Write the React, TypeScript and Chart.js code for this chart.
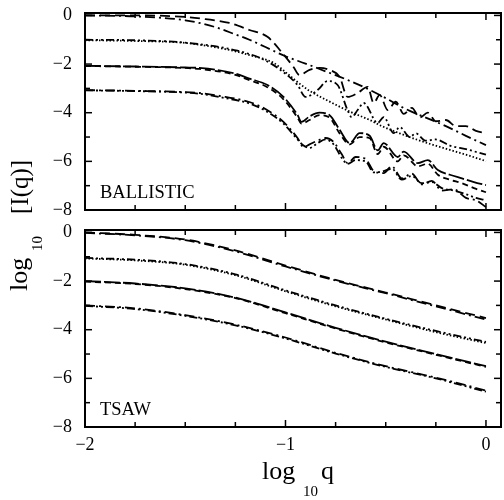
import React, { useEffect, useRef } from "react";
import { Chart, registerables } from "chart.js";
Chart.register(...registerables);

const FONT = '"Liberation Serif", "DejaVu Serif", serif';

// ---------- axes ----------
const xTickLabels = [-2, -1, 0];
const yTickLabels = [-8, -6, -4, -2, 0];
const X_MIN = -2;
const X_MAX = 0.075;
const Y_MIN = -8;
const Y_MAX = 0.1;

// ---------- BALLISTIC (top panel) ----------
const b0SmoothX = [-2, -1.75, -1.5, -1.35, -1.25, -1.18, -1.1, -1.0, -0.9, -0.8, -0.7, -0.6, -0.5, -0.4, -0.3, -0.2, -0.1, 0];
const b0SmoothY = [0.0, -0.04, -0.2, -0.48, -0.78, -1.0, -1.3, -1.68, -1.98, -2.3, -2.62, -2.98, -3.4, -3.85, -4.2, -4.55, -4.95, -5.33];

const b0OscX = [-2, -1.75, -1.5, -1.4, -1.28, -1.18, -1.09, -1.02, -0.96, -0.93, -0.88, -0.83, -0.78, -0.73, -0.69, -0.64, -0.59, -0.56, -0.53, -0.49, -0.45, -0.41, -0.37, -0.33, -0.29, -0.25, -0.2, -0.15, -0.1, -0.05, 0];
const b0OscY = [0.0, 0.0, -0.06, -0.15, -0.31, -0.6, -0.88, -1.5, -2.12, -2.45, -2.24, -2.16, -2.24, -2.53, -3.35, -3.19, -2.94, -3.6, -3.27, -3.89, -3.55, -4.05, -3.8, -4.2, -4.0, -4.35, -4.3, -4.55, -4.55, -4.75, -4.84];

const b1SmoothX = [-2, -1.75, -1.5, -1.28, -1.18, -1.06, -0.99, -0.94, -0.88, -0.79, -0.68, -0.58, -0.52, -0.43, -0.34, -0.26, -0.18, -0.09, 0];
const b1SmoothY = [-1.02, -1.05, -1.13, -1.42, -1.63, -1.95, -2.4, -2.74, -3.1, -3.5, -3.95, -4.3, -4.55, -4.85, -5.12, -5.33, -5.53, -5.75, -5.99];

const b1OscX = [-2, -1.75, -1.5, -1.24, -1.1, -1.0, -0.94, -0.9, -0.84, -0.79, -0.74, -0.69, -0.67, -0.64, -0.61, -0.54, -0.51, -0.46, -0.43, -0.38, -0.35, -0.3, -0.25, -0.18, -0.1, 0];
const b1OscY = [-1.0, -1.02, -1.12, -1.45, -1.85, -2.4, -2.86, -3.35, -3.07, -2.7, -2.86, -3.9, -4.18, -3.89, -3.6, -4.42, -4.18, -4.84, -4.59, -5.0, -4.85, -5.15, -5.1, -5.35, -5.5, -5.72];

const b2X = [-2, -1.75, -1.5, -1.43, -1.26, -1.18, -1.09, -1.01, -0.94, -0.92, -0.88, -0.83, -0.78, -0.73, -0.68, -0.63, -0.58, -0.54, -0.51, -0.44, -0.41, -0.34, -0.29, -0.24, -0.18, -0.12, -0.06, 0];
const b2MainY = [-2.07, -2.1, -2.14, -2.16, -2.37, -2.6, -2.86, -3.35, -4.09, -4.38, -4.15, -4.0, -4.1, -4.7, -5.25, -4.84, -4.95, -5.55, -5.25, -5.82, -5.6, -6.07, -5.95, -6.36, -6.55, -6.7, -6.85, -6.98];
const b2CompY = [-2.08, -2.11, -2.16, -2.2, -2.42, -2.66, -2.95, -3.45, -4.2, -4.45, -4.3, -4.1, -4.2, -4.85, -5.3, -5.0, -5.05, -5.7, -5.4, -6.0, -5.75, -6.2, -6.1, -6.55, -6.75, -6.9, -7.1, -7.27];

const b3X = [-2, -1.75, -1.5, -1.43, -1.3, -1.18, -1.1, -1.01, -0.94, -0.91, -0.88, -0.84, -0.8, -0.76, -0.72, -0.69, -0.65, -0.6, -0.56, -0.51, -0.47, -0.42, -0.37, -0.32, -0.27, -0.22, -0.16, -0.1, -0.05, 0];
const b3MainY = [-3.07, -3.1, -3.15, -3.19, -3.35, -3.56, -3.85, -4.38, -5.04, -5.41, -5.3, -5.15, -5.04, -5.2, -5.7, -6.07, -5.82, -5.9, -6.4, -6.48, -6.2, -6.7, -6.5, -6.95, -6.8, -7.2, -7.15, -7.5, -7.6, -7.88];
const b3CompY = [-3.08, -3.11, -3.17, -3.22, -3.4, -3.62, -3.92, -4.45, -5.1, -5.35, -5.45, -5.25, -5.1, -5.3, -5.85, -6.1, -5.95, -6.0, -6.45, -6.4, -6.3, -6.75, -6.6, -6.9, -6.85, -7.1, -7.2, -7.35, -7.5, -7.6];

// ---------- TSAW (bottom panel) ----------
const tX = [-2, -1.75, -1.5, -1.25, -1.0, -0.75, -0.5, -0.25, 0];
const t0A = [0.0, -0.1, -0.29, -0.74, -1.36, -1.95, -2.47, -3.0, -3.52];
const t0B = [-0.02, -0.12, -0.32, -0.78, -1.4, -1.98, -2.5, -3.04, -3.58];
const t1A = [-1.05, -1.12, -1.3, -1.72, -2.38, -3.0, -3.55, -4.05, -4.5];
const t1B = [-1.07, -1.15, -1.33, -1.76, -2.42, -3.04, -3.58, -4.1, -4.55];
const t2A = [-2.0, -2.1, -2.3, -2.68, -3.29, -3.92, -4.49, -5.0, -5.5];
const t2B = [-2.02, -2.12, -2.33, -2.7, -3.32, -3.95, -4.52, -5.03, -5.53];
const t3A = [-3.0, -3.12, -3.4, -3.79, -4.32, -4.95, -5.5, -5.97, -6.5];
const t3B = [-3.02, -3.15, -3.43, -3.82, -4.36, -4.98, -5.53, -6.0, -6.55];

// ---------- dash styles ----------
const DASH = [10, 5];
const DASHDOT = [10, 4, 2, 4];
const DOT = [1.5, 2];
const DASHDOTDOT = [8, 3, 2, 3, 2, 3];
const LONGDASH = [16, 3];
const MEDDASH = [6, 4];

function ds(xs: number[], ys: number[], dash: number[], width = 1.8) {
  return {
    data: xs.map((x, i) => ({ x, y: ys[i] })),
    borderColor: "#000",
    borderWidth: width,
    borderDash: dash,
    pointRadius: 0,
    fill: false,
    cubicInterpolationMode: "monotone" as const,
  };
}

const fmt = (v: any) => {
  const n = Number(v);
  return n < 0 ? "\u2212" + Math.abs(n) : String(n);
};

const framePlugin = {
  id: "frame",
  afterDraw(chart: any, _a: any, opts: any) {
    const { ctx, chartArea: a, scales } = chart;
    const xs = scales.x;
    const ys = scales.y;
    ctx.save();
    ctx.strokeStyle = "#000";
    const line = (x1: number, y1: number, x2: number, y2: number) => {
      ctx.beginPath();
      ctx.moveTo(x1, y1);
      ctx.lineTo(x2, y2);
      ctx.stroke();
    };
    ctx.lineWidth = 1.5;
    for (let i = 0; i <= 8; i++) {
      const v = -2 + i * 0.25;
      const px = xs.getPixelForValue(v);
      const L = i % 4 === 0 ? 7 : 5;
      line(px, a.bottom, px, a.bottom - L);
      line(px, a.top, px, a.top + L);
    }
    for (let v = -8; v <= 0; v++) {
      const py = ys.getPixelForValue(v);
      const L = v % 2 === 0 ? 7 : 5;
      line(a.left, py, a.left + L, py);
      line(a.right, py, a.right - L, py);
    }
    ctx.lineWidth = 2;
    ctx.strokeRect(a.left, a.top, a.right - a.left, a.bottom - a.top);
    ctx.fillStyle = "#000";
    ctx.font = `18.5px ${FONT}`;
    ctx.textBaseline = "alphabetic";
    ctx.textAlign = "left";
    ctx.fillText(opts.label, a.left + 15, a.bottom - 12);
    ctx.restore();
  },
};

function yScale() {
  return {
    type: "linear" as const,
    min: Y_MIN,
    max: Y_MAX,
    grid: { display: false, drawTicks: false },
    border: { display: false },
    afterBuildTicks: (s: any) => {
      s.ticks = yTickLabels.map((v) => ({ value: v }));
    },
    afterFit: (s: any) => {
      s.width = 85;
      s.paddingTop = 0;
      s.paddingBottom = 0;
    },
    ticks: {
      color: "#000",
      font: { family: FONT, size: 18 },
      padding: 13,
      callback: fmt,
    },
  };
}

function Panel(props: { datasets: any[]; label: string; showX: boolean; height: number; padTop: number; padBottom: number; xHeight: number }) {
  const ref = useRef<HTMLCanvasElement | null>(null);
  useEffect(() => {
    if (!ref.current) return;
    const chart = new Chart(ref.current, {
      type: "line",
      data: { datasets: props.datasets },
      plugins: [framePlugin],
      options: {
        animation: false,
        responsive: false,
        maintainAspectRatio: false,
        layout: { padding: { top: props.padTop, right: 3, bottom: props.padBottom, left: 0 } },
        plugins: {
          legend: { display: false },
          tooltip: { enabled: false },
          frame: { label: props.label },
        } as any,
        scales: {
          x: {
            type: "linear",
            min: X_MIN,
            max: X_MAX,
            display: props.showX,
            grid: { display: false, drawTicks: false },
            border: { display: false },
            afterBuildTicks: (s: any) => {
              s.ticks = xTickLabels.map((v) => ({ value: v }));
            },
            afterFit: (s: any) => {
              s.height = props.xHeight;
              s.paddingLeft = 0;
              s.paddingRight = 0;
            },
            ticks: {
              color: "#000",
              font: { family: FONT, size: 18 },
              padding: 7,
              maxRotation: 0,
              autoSkip: false,
              callback: fmt,
            },
          },
          y: yScale(),
        },
      } as any,
    });
    return () => chart.destroy();
  }, []);
  return <canvas ref={ref} width={504} height={props.height} style={{ width: 504, height: props.height, display: "block" }} />;
}

const topSets = [
  ds(b0SmoothX, b0SmoothY, DASHDOT),
  ds(b0OscX, b0OscY, DASH),
  ds(b1SmoothX, b1SmoothY, DOT),
  ds(b1OscX, b1OscY, DASHDOTDOT),
  ds(b2X, b2MainY, LONGDASH),
  ds(b2X, b2CompY, MEDDASH),
  ds(b3X, b3MainY, DASHDOT),
  ds(b3X, b3CompY, DASHDOTDOT),
];

const bottomSets = [
  ds(tX, t0A, DASH),
  ds(tX, t0B, DASHDOT),
  ds(tX, t1A, DASHDOTDOT),
  ds(tX, t1B, DOT),
  ds(tX, t2A, LONGDASH),
  ds(tX, t2B, MEDDASH),
  ds(tX, t3A, DASHDOT),
  ds(tX, t3B, DASHDOTDOT),
];

const rot = (left: number, top: number, size: number): React.CSSProperties => ({
  position: "absolute",
  left,
  top,
  fontFamily: FONT,
  fontSize: size,
  lineHeight: `${size}px`,
  whiteSpace: "nowrap",
  transformOrigin: "0 0",
  transform: "rotate(-90deg)",
  color: "#000",
});

const txt = (left: number, top: number, size: number): React.CSSProperties => ({
  position: "absolute",
  left,
  top,
  fontFamily: FONT,
  fontSize: size,
  lineHeight: `${size}px`,
  whiteSpace: "nowrap",
  color: "#000",
});

export default function App() {
  return (
    <div style={{ position: "fixed", left: 0, top: 0, width: 504, height: 500, background: "#fff", overflow: "hidden" }}>
      <div style={{ position: "absolute", left: 0, top: 0 }}>
        <Panel datasets={topSets} label="BALLISTIC" showX={false} height={217} padTop={13} padBottom={7} xHeight={0} />
      </div>
      <div style={{ position: "absolute", left: 0, top: 217 }}>
        <Panel datasets={bottomSets} label="TSAW" showX={true} height={283} padTop={13} padBottom={0} xHeight={73} />
      </div>
      {/* y-axis title */}
      <div style={rot(6, 291, 26)}>log</div>
      <div style={rot(30, 251, 15)}>10</div>
      <div style={rot(7, 214, 25)}>[I(q)]</div>
      {/* x-axis title */}
      <div style={txt(262, 458, 26)}>log</div>
      <div style={txt(303, 484, 15)}>10</div>
      <div style={txt(321, 458, 26)}>q</div>
    </div>
  );
}
